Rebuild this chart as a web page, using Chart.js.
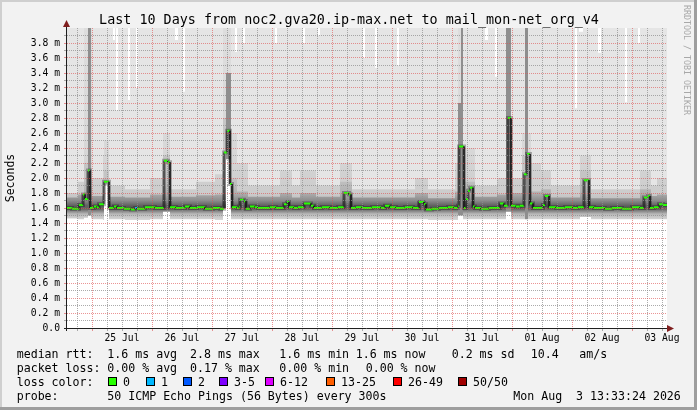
<!DOCTYPE html>
<html>
<head>
<meta charset="utf-8">
<script src="https://cdn.jsdelivr.net/npm/chart.js@4.4.1/dist/chart.umd.min.js"></script>
<style>
  html, body { margin: 0; padding: 0; background: #f2f2f2; }
</style>
</head>
<body>
<canvas id="c" width="697" height="410"></canvas>
<script>
// hours are counted from the left edge of the graph (24 Jul ~14:00)
const title = 'Last 10 Days from noc2.gva20.ip-max.net to mail_mon-net_org_v4';
const dayLabels = ['25 Jul', '26 Jul', '27 Jul', '28 Jul', '29 Jul', '30 Jul', '31 Jul', '01 Aug', '02 Aug', '03 Aug'];
const spanHours = 240;

// median rtt (ms), value holds from each hour until the next one
const medianHours = [
  0, 2, 4.8, 6.4, 7.2, 8.4, 9.2, 10.8, 12, 12.8,
  14.8, 16.8, 18.8, 20, 22.8, 25.6, 27.2, 28, 31.2, 35.2,
  38.8, 40.4, 41.2, 43.6, 47.2, 49.2, 52, 55.2, 58.4, 61.2,
  62.8, 64, 65.2, 66, 68, 68.8, 69.2, 70.8, 71.6, 73.2,
  75.2, 76.4, 81.2, 83.6, 86.8, 88, 88.8, 90.8, 92.4, 94.8,
  97.6, 98.8, 102, 105.2, 108.4, 110.8, 112.8, 113.6, 115.6, 118,
  122, 125.6, 127.2, 129.2, 131.6, 135.2, 138.4, 140.8, 142.8, 143.6,
  146, 148.8, 152.4, 154.8, 156.4, 156.8, 158.8, 159.6, 160.4, 161.2,
  162.4, 163.2, 165.6, 168.8, 173.2, 174.8, 176.4, 177.6, 179.6, 181.2,
  182.8, 184, 185.2, 186.4, 190.4, 191.2, 192.8, 195.6, 199.2, 202.4,
  204.4, 206.8, 208.8, 210.8, 215.2, 218, 222, 226, 229.2, 230.8,
  232.4, 233.2, 234.8, 236.8, 238.4
];
const medianValues = [
  1.60, 1.59, 1.64, 1.78, 1.72, 2.10, 1.60, 1.62, 1.61, 1.65,
  1.95, 1.60, 1.62, 1.60, 1.59, 1.58, 1.60, 1.59, 1.61, 1.60,
  2.23, 2.21, 1.61, 1.60, 1.62, 1.60, 1.61, 1.59, 1.60, 1.59,
  2.34, 2.63, 1.92, 1.61, 1.60, 1.62, 1.71, 1.69, 1.59, 1.62,
  1.61, 1.60, 1.61, 1.60, 1.65, 1.68, 1.61, 1.60, 1.61, 1.66,
  1.63, 1.60, 1.61, 1.60, 1.61, 1.80, 1.78, 1.60, 1.61, 1.60,
  1.61, 1.60, 1.63, 1.61, 1.60, 1.61, 1.60, 1.68, 1.65, 1.58,
  1.59, 1.60, 1.61, 1.60, 1.63, 2.42, 1.60, 1.72, 1.83, 1.87,
  1.62, 1.60, 1.59, 1.60, 1.66, 1.63, 2.80, 1.63, 1.62, 1.63,
  2.05, 2.32, 1.66, 1.60, 1.64, 1.76, 1.61, 1.60, 1.61, 1.60,
  1.61, 1.97, 1.61, 1.60, 1.59, 1.60, 1.59, 1.61, 1.60, 1.74,
  1.76, 1.60, 1.61, 1.65, 1.64
];
const lossHours = [27.2]; // the one step with 1 lost ping

// smoke: lower edge, dense part, upper part
const smokeHours = [
  0, 4.4, 6.8, 8.4, 9.6, 10, 14.4, 14.8, 16.8, 23.2,
  33.2, 38.4, 41.2, 51.6, 59.2, 62.4, 63.6, 65.6, 68, 72.4,
  85.2, 90, 93.2, 99.6, 109.2, 114, 139.2, 144.4, 155.2, 156.4,
  157.6, 158.4, 163.2, 172, 175.6, 177.6, 182, 183.2, 184.4, 185.6,
  189.6, 193.6, 205.2, 209.6, 229.2, 233.6, 236
];
const smokeBase = [
  1.46, 1.45, 1.47, 1.50, 1.46, 1.45, 1.44, 1.90, 1.45, 1.44,
  1.45, 1.55, 1.45, 1.45, 1.44, 1.60, 2.25, 1.45, 1.45, 1.45,
  1.45, 1.45, 1.45, 1.45, 1.45, 1.45, 1.45, 1.44, 1.44, 1.50,
  1.50, 1.45, 1.45, 1.45, 1.55, 1.45, 1.45, 1.45, 1.45, 1.45,
  1.45, 1.45, 1.48, 1.45, 1.45, 1.45, 1.45
];
const smokeDense = [
  1.74, 1.78, 2.20, 4.20, 2.00, 1.76, 2.00, 2.10, 1.75, 1.74,
  1.78, 2.30, 1.75, 1.77, 1.78, 2.80, 3.40, 2.00, 1.82, 1.75,
  1.80, 1.74, 1.80, 1.75, 1.95, 1.74, 1.80, 1.73, 1.82, 3.00,
  4.20, 1.95, 1.75, 1.78, 4.20, 1.80, 2.30, 4.20, 2.30, 1.82,
  1.85, 1.74, 2.10, 1.73, 1.85, 1.76, 1.78
];
const smokeHigh = [
  1.80, 1.95, 4.20, 4.20, 4.20, 2.00, 2.30, 2.50, 1.90, 1.85,
  2.00, 2.60, 1.85, 1.95, 2.05, 4.20, 4.20, 2.60, 2.20, 1.90,
  2.10, 1.90, 2.10, 1.90, 2.20, 1.85, 2.00, 1.85, 2.20, 4.20,
  4.20, 2.40, 1.90, 2.00, 4.20, 2.00, 2.60, 4.20, 2.60, 2.20,
  2.10, 1.90, 2.30, 1.85, 2.10, 1.90, 2.00
];
// top of the light smoke (4.2 = above the graph), gaps show as white stripes
const topHours = [
  0, 18.4, 19.2, 19.6, 20.4, 24.4, 25.2, 27.6, 28.4, 43.2,
  44.4, 46.4, 47.2, 67.2, 68, 70.4, 71.2, 83.2, 84, 94.4,
  95.2, 100.4, 101.2, 118.4, 119.2, 123.2, 124, 132, 132.8, 167.2,
  168.4, 171.2, 172, 203.2, 204, 204.8, 206.4, 212.4, 213.6, 223.2,
  224, 228.4, 229.2
];
const smokeTop = [
  4.2, 3.84, 4.2, 2.90, 4.2, 3.04, 4.2, 3.20, 4.2, 3.84,
  4.2, 3.15, 4.2, 3.68, 4.2, 3.80, 4.2, 3.80, 4.2, 3.80,
  4.2, 3.90, 4.2, 3.60, 4.2, 3.47, 4.2, 3.50, 4.2, 3.84,
  4.2, 3.35, 4.2, 2.93, 4.2, 3.95, 4.2, 3.67, 4.2, 3.01,
  4.2, 3.80, 4.2
];

const rttStats = ['1.6 ms avg', '2.8 ms max', '1.6 ms min', '1.6 ms now', '0.2 ms sd', '10.4', 'am/s'];
const lossStats = ['0.00 % avg', '0.17 % max', '0.00 % min', '0.00 % now'];
const lossLabels = ['0', '1', '2', '3-5', '6-12', '13-25', '26-49', '50/50'];
const lossColors = ['#26ff00', '#00b8ff', '#0059ff', '#7e00ff', '#dd00ff', '#ff5e00', '#ff0000', '#a10000'];
const probeText = '50 ICMP Echo Pings (56 Bytes) every 300s';
const stampText = 'Mon Aug  3 13:33:24 2026';

const MONO = '"DejaVu Sans Mono", monospace';
const GRID = 'rgba(143,143,143,0.75)';
const MGRID = 'rgba(222,79,79,0.6)';

// turn a step series into points with pure horizontal / vertical segments
function steps(hours, values) {
  const pts = [];
  for (let i = 0; i < hours.length; i++) {
    const next = i + 1 < hours.length ? hours[i + 1] : spanHours;
    pts.push({ x: hours[i], y: values[i] }, { x: next, y: values[i] });
  }
  return pts;
}

const isVertical = (ctx) => ctx.p0.parsed.x === ctx.p1.parsed.x;

// vertical shading of the smoke, darkest around the usual rtt
const grads = { dense: '#c0c0c0', high: '#d8d8d8' };
const gradPlugin = {
  id: 'grads',
  afterLayout(chart) {
    const y = chart.scales.y;
    const mk = (stops) => {
      const g = chart.ctx.createLinearGradient(0, y.getPixelForValue(0), 0, y.getPixelForValue(4));
      stops.forEach(([v, c]) => g.addColorStop(v / 4, c));
      return g;
    };
    grads.dense = mk([[0, '#d8d8d8'], [1.44, '#d8d8d8'], [1.52, '#b8b8b8'], [1.585, '#666666'],
      [1.63, '#606060'], [1.7, '#8c8c8c'], [1.8, '#b0b0b0'], [2.0, '#c4c4c4'], [4, '#c8c8c8']]);
    grads.high = mk([[0, '#e0e0e0'], [1.45, '#e0e0e0'], [1.55, '#cbcbcb'], [1.62, '#b4b4b4'],
      [1.8, '#cccccc'], [2.4, '#d8d8d8'], [4, '#dddddd']]);
  }
};

const frame = {
  id: 'frame',
  beforeDraw(chart) {
    const { ctx, chartArea: a } = chart;
    ctx.save();
    ctx.fillStyle = '#f2f2f2';
    ctx.fillRect(0, 0, 697, 410);
    ctx.fillStyle = '#cfcfcf';
    ctx.fillRect(0, 0, 697, 2);
    ctx.fillRect(0, 0, 2, 410);
    ctx.fillStyle = '#9e9e9e';
    ctx.fillRect(0, 407, 697, 3);
    ctx.fillRect(694, 0, 3, 410);
    ctx.fillStyle = '#ffffff';
    ctx.fillRect(a.left, a.top, a.right - a.left, a.bottom - a.top);
    ctx.restore();
  },
  afterDraw(chart) {
    const ctx = chart.ctx;
    ctx.save();
    // axes + arrows
    ctx.strokeStyle = '#1f1f1f';
    ctx.lineWidth = 1;
    ctx.beginPath();
    ctx.moveTo(66.5, 331);
    ctx.lineTo(66.5, 25);
    ctx.moveTo(64, 328.5);
    ctx.lineTo(669, 328.5);
    ctx.stroke();
    ctx.fillStyle = '#801f1f';
    ctx.beginPath();
    ctx.moveTo(66.5, 20); ctx.lineTo(63, 27); ctx.lineTo(70, 27); ctx.closePath();
    ctx.fill();
    ctx.beginPath();
    ctx.moveTo(674, 328.5); ctx.lineTo(667, 325); ctx.lineTo(667, 332); ctx.closePath();
    ctx.fill();

    // title
    ctx.fillStyle = '#000';
    ctx.textBaseline = 'alphabetic';
    ctx.font = '13.4px ' + MONO;
    ctx.textAlign = 'center';
    ctx.fillText(title, 349, 24);

    // unit
    ctx.save();
    ctx.font = '11.5px ' + MONO;
    ctx.translate(14, 178);
    ctx.rotate(-Math.PI / 2);
    ctx.fillText('Seconds', 0, 0);
    ctx.restore();

    // watermark
    ctx.save();
    ctx.fillStyle = '#a8a8a8';
    ctx.font = '8.3px ' + MONO;
    ctx.textAlign = 'left';
    ctx.translate(683.5, 5);
    ctx.rotate(Math.PI / 2);
    ctx.fillText('RRDTOOL / TOBI OETIKER', 0, 0);
    ctx.restore();

    // legend
    ctx.font = '11.6px ' + MONO;
    ctx.textAlign = 'left';
    const rttX = [107.3, 190, 279.3, 355.7, 451.7, 530.7, 579.3];
    const lossX = [107.3, 190, 279.3, 365.7];
    ctx.fillText('median rtt:', 16.7, 358);
    rttStats.forEach((s, i) => ctx.fillText(s, rttX[i], 358));
    ctx.fillText('packet loss:', 16.7, 372);
    lossStats.forEach((s, i) => ctx.fillText(s, lossX[i], 372));
    ctx.fillText('loss color:', 16.7, 386);
    const boxX = [108, 146, 183, 219, 265, 326, 393, 458];
    lossLabels.forEach((s, i) => {
      ctx.fillStyle = '#000';
      ctx.fillRect(boxX[i], 377, 9, 9);
      ctx.fillStyle = lossColors[i];
      ctx.fillRect(boxX[i] + 1, 378, 7, 7);
      ctx.fillStyle = '#000';
      ctx.fillText(s, boxX[i] + 15, 386);
    });
    ctx.fillText('probe:', 16.7, 400);
    ctx.fillText(probeText, 107.3, 400);
    ctx.fillText(stampText, 513.3, 400);
    ctx.restore();
  }
};

new Chart(document.getElementById('c'), {
  type: 'line',
  data: {
    datasets: [
      {
        label: 'median rtt',
        data: steps(medianHours, medianValues),
        borderColor: '#26ff00',
        borderWidth: 2,
        segment: {
          borderColor: (ctx) => isVertical(ctx) ? '#1a1a1a'
            : (lossHours.includes(ctx.p0.parsed.x) ? '#00b8ff' : '#26ff00'),
          borderWidth: (ctx) => isVertical(ctx) ? 1 : 2
        },
        fill: false
      },
      {
        label: 'smoke core',
        data: steps(medianHours, medianValues),
        borderColor: 'rgba(0,0,0,0.28)',
        borderWidth: 4,
        fill: false
      },
      {
        label: 'smoke base',
        data: steps(smokeHours, smokeBase),
        borderWidth: 0,
        backgroundColor: '#ffffff',
        fill: 'start'
      },
      {
        label: 'smoke dense',
        data: steps(smokeHours, smokeDense),
        borderWidth: 0,
        backgroundColor: () => grads.dense,
        segment: {
          backgroundColor: (ctx) => (ctx.p0.parsed.y >= 3 ? '#8e8e8e' : grads.dense)
        },
        fill: 'start'
      },
      {
        label: 'smoke high',
        data: steps(smokeHours, smokeHigh),
        borderWidth: 0,
        backgroundColor: () => grads.high,
        fill: 'start'
      },
      {
        label: 'smoke top',
        data: steps(topHours, smokeTop),
        borderWidth: 0,
        backgroundColor: '#e5e5e5',
        fill: 'start'
      }
    ]
  },
  options: {
    responsive: false,
    animation: false,
    events: [],
    layout: { padding: { left: 0, top: 28, right: 30, bottom: 0 } },
    elements: { point: { radius: 0 }, line: { tension: 0, borderCapStyle: 'butt' } },
    datasets: { line: { clip: 0 } },
    plugins: { legend: { display: false }, tooltip: { enabled: false } },
    scales: {
      x: {
        type: 'linear',
        min: 0,
        max: spanHours,
        afterFit: (s) => { s.height = 82; },
        afterBuildTicks: (s) => {
          const t = [];
          for (let h = 4; h <= spanHours; h += 6) t.push({ value: h });
          s.ticks = t;
        },
        grid: {
          z: 1,
          color: (c) => ((c.tick.value - 10) % 24 === 0 ? MGRID : GRID),
          tickColor: (c) => ((c.tick.value - 10) % 24 === 0 ? MGRID : GRID),
          tickLength: 3,
          lineWidth: 1
        },
        border: { display: false, dash: [1, 1] },
        ticks: {
          autoSkip: false,
          maxRotation: 0,
          padding: 2,
          color: '#000',
          font: { family: 'DejaVu Sans Mono', size: 9.7 },
          callback: (v) => ((v - 22) % 24 === 0 ? dayLabels[(v - 22) / 24] : '')
        }
      },
      y: {
        min: 0,
        max: 4,
        afterFit: (s) => { s.width = 67; },
        afterBuildTicks: (s) => {
          const t = [];
          for (let i = 0; i < 40; i++) t.push({ value: i / 10 });
          s.ticks = t;
        },
        grid: {
          z: 1,
          color: (c) => (Math.round(c.tick.value * 10) % 2 === 0 ? MGRID : GRID),
          tickColor: (c) => (Math.round(c.tick.value * 10) % 2 === 0 ? MGRID : GRID),
          tickLength: 3,
          lineWidth: 1
        },
        border: { display: false, dash: [1, 1] },
        ticks: {
          autoSkip: false,
          padding: 4,
          color: '#000',
          font: { family: 'DejaVu Sans Mono', size: 9.7 },
          callback: (v) => {
            const i = Math.round(v * 10);
            if (i % 2) return '';
            return i === 0 ? '0.0' : (i / 10).toFixed(1) + ' m';
          }
        }
      }
    }
  },
  plugins: [gradPlugin, frame]
});
</script>
</body>
</html>
